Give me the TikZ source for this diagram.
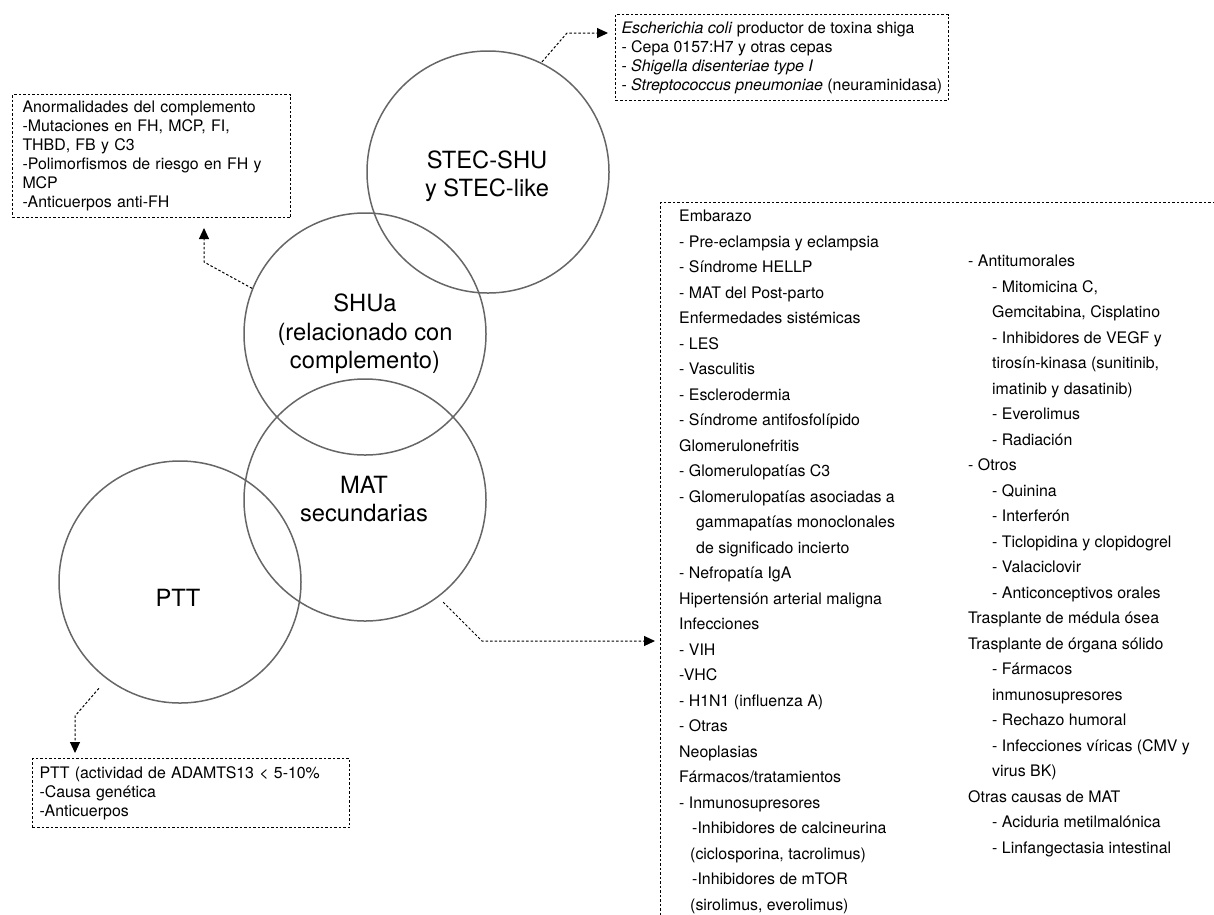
\documentclass[tikz,border=0pt]{standalone}
\usepackage{fontspec}
\setmainfont{TeX Gyre Heros}
\usetikzlibrary{arrows.meta}
\newcommand{\pushin}[1]{\hspace*{#1pt}}
\tikzset{
  ring/.style={circle,draw=black!60,line width=1.5pt,minimum size=242pt,inner sep=0pt},
  ringtext/.style={align=center,inner sep=0pt,font=\fontsize{23.7}{28.5}\selectfont},
  note/.style={draw,dash pattern=on 2.5pt off 2pt,line width=1pt,anchor=north west,align=left,
    inner ysep=0pt,font=\fontsize{15.9}{19}\selectfont},
  bigbox/.style={draw,dash pattern=on 2.5pt off 2pt,line width=1pt,anchor=north west,inner sep=0pt},
  list/.style={anchor=north west,align=left,inner sep=0pt,font=\fontsize{15.9}{25.5}\selectfont},
  link/.style={dash pattern=on 2.5pt off 2pt,line width=1pt,-{Triangle[length=11pt,width=10pt]}}
}
\begin{document}
\begin{tikzpicture}[x=1pt,y=-1pt]
  \useasboundingbox (0,0) rectangle (1214,914);
  \clip (0,0) rectangle (1214,914);
  % circulos
  \draw
    (488,172) node[ring] (stec){}
    (365,334) node[ring] (shua){}
    (365,500) node[ring] (mat){}
    (180,582) node[ring] (ptt){};
  \draw
    (487,176) node[ringtext] (steclbl){STEC-SHU\\y STEC-like}
    (365,334) node[ringtext] (shualbl){SHUa\\(relacionado con\\complemento)}
    (364,499) node[ringtext] (matlbl){MAT\\secundarias}
    (178,598) node[ringtext] (pttlbl){PTT};
  % cajas
  \node[note,text width=258pt,minimum height=123pt,inner xsep=10pt] (cbox) at (12,94)
    {Anormalidades del complemento\\
     -Mutaciones en FH, MCP, FI,\\
     THBD, FB y C3\\
     -Polimorfismos de riesgo en FH y\\
     MCP\\
     -Anticuerpos anti-FH};
  \node[note,minimum width=332pt,minimum height=86pt,inner xsep=6pt] (ebox) at (615,14)
    {\textit{Escherichia coli} productor de toxina shiga\\
     - Cepa 0157:H7 y otras cepas\\
     - \textit{Shigella disenteriae type I}\\
     - \textit{Streptococcus pneumoniae} (neuraminidasa)};
  \node[note,text width=303pt,minimum height=69pt,inner xsep=7pt] (pbox) at (32,758)
    {PTT (actividad de ADAMTS13 < 5-10\%\\
     -Causa genética\\
     -Anticuerpos};
  \node[bigbox,minimum width=580pt,minimum height=740pt] (causes) at (660,202) {};
  \node[list] (colone) at (679,210)
    {Embarazo\\
     - Pre-eclampsia y eclampsia\\
     - Síndrome HELLP\\
     - MAT del Post-parto\\
     Enfermedades sistémicas\\
     - LES\\
     - Vasculitis\\
     - Esclerodermia\\
     - Síndrome antifosfolípido\\
     Glomerulonefritis\\
     - Glomerulopatías C3\\
     - Glomerulopatías asociadas a\\
     \pushin{17}gammapatías monoclonales\\
     \pushin{17}de significado incierto\\
     - Nefropatía IgA\\
     Hipertensión arterial maligna\\
     Infecciones\\
     - VIH\\
     -VHC\\
     - H1N1 (influenza A)\\
     - Otras\\
     Neoplasias\\
     Fármacos/tratamientos\\
     - Inmunosupresores\\
     \pushin{13}-Inhibidores de calcineurina\\
     \pushin{11}(ciclosporina, tacrolimus)\\
     \pushin{13}-Inhibidores de mTOR\\
     \pushin{11}(sirolimus, everolimus)};
  \node[list] (coltwo) at (968,255)
    {- Antitumorales\\
     \pushin{24}- Mitomicina C,\\
     \pushin{24}Gemcitabina, Cisplatino\\
     \pushin{24}- Inhibidores de VEGF y\\
     \pushin{24}tirosín-kinasa (sunitinib,\\
     \pushin{24}imatinib y dasatinib)\\
     \pushin{24}- Everolimus\\
     \pushin{24}- Radiación\\
     - Otros\\
     \pushin{24}- Quinina\\
     \pushin{24}- Interferón\\
     \pushin{24}- Ticlopidina y clopidogrel\\
     \pushin{24}- Valaciclovir\\
     \pushin{24}- Anticonceptivos orales\\
     Trasplante de médula ósea\\
     Trasplante de órgana sólido\\
     \pushin{24}- Fármacos\\
     \pushin{24}inmunosupresores\\
     \pushin{24}- Rechazo humoral\\
     \pushin{24}- Infecciones víricas (CMV y\\
     \pushin{24}virus BK)\\
     Otras causas de MAT\\
     \pushin{24}- Aciduria metilmalónica\\
     \pushin{24}- Linfangectasia intestinal};
  % flechas
  \coordinate (sbend) at (204,262);
  \coordinate (ebend) at (567,33);
  \coordinate (mbend) at (482,641);
  \coordinate (pbend) at (75,716);
  \begin{scope}[link]
    \draw (shua.158) -- (sbend) -- (sbend |- cbox.south) [shorten >=10pt];
    \draw[shorten <=1pt,shorten >=7pt] (stec.64) -- (ebend) -- (ebend -| ebox.west);
    \draw[shorten <=7pt,shorten >=5pt] (mat.-53) -- (mbend) -- (mbend -| causes.west);
    \draw[shorten <=12pt,shorten >=5pt] (ptt.-127) -- (pbend) -- (pbend |- pbox.north);
  \end{scope}
\end{tikzpicture}
\end{document}
